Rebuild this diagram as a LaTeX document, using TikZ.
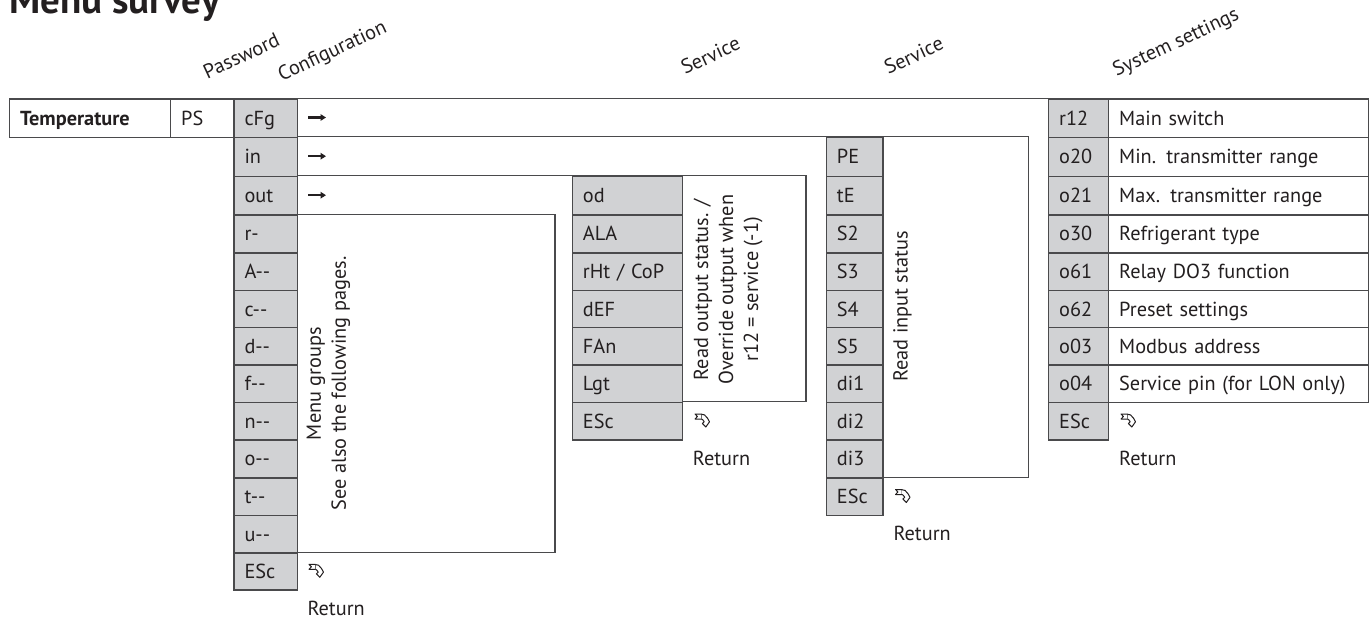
\documentclass[tikz,border=0pt]{standalone}
\usepackage{fontspec}
\setmainfont{PT Sans}
\usetikzlibrary{arrows.meta}
\definecolor{ink}{HTML}{231F20}
\definecolor{rulec}{HTML}{4A4A4C}
\definecolor{cellgray}{HTML}{D1D2D4}
\newcommand\cellnode[7]{%
  \pgfmathsetmacro\cellW{#4-#3}%
  \pgfmathsetmacro\cellT{#4-#3-21}%
  \pgfmathsetmacro\cellH{#6-#5}%
  \node[#2, minimum width=\cellW pt, minimum height=\cellH pt, text width=\cellT pt] (#1) at (#3,#5) {#7};}
\begin{document}
\begin{tikzpicture}[x=1pt,y=-1pt, font=\fontsize{20.3}{25}\selectfont, text=ink,
  cellbase/.style={draw=rulec, line width=1.4pt, inner xsep=10.5pt, inner ysep=0pt, text height=14pt, text depth=0pt, align=left, anchor=north west},
  graycell/.style={cellbase, fill=cellgray},
  whitecell/.style={cellbase, fill=white},
  boxline/.style={draw=rulec, line width=1.4pt},
  hdr/.style={anchor=base west, rotate=25, inner sep=0pt},
  lbl/.style={anchor=west, inner sep=0pt, text height=14pt, text depth=0pt},
  vtext/.style={rotate=90, align=center, inner sep=0pt},
  goarrow/.style={draw=ink, line width=2.3pt, -{Triangle[length=5.5pt,width=6.5pt]}},
  retsym/.pic={
    \draw[ink, line width=1pt, line join=round, fill=white]
      (0,0) -- (6.5,0) -- (6.5,5) -- (0,5) -- (2.4,2.5) -- cycle;
    \draw[ink, line width=1pt, line join=round, fill=white]
      (6.5,0.3) -- (9.5,0.9) -- (12.5,4.2) -- (14.5,7.8) -- (10.8,13) -- (7.4,9.5) -- (9.2,7.8) -- (7.8,5.8) -- (6.5,5);
  }
]
\useasboundingbox (0,0) rectangle (1370,621);

% title and column headers
\node[anchor=base west, inner sep=0pt, font=\bfseries\fontsize{39}{42}\selectfont] (title) at (9,13) {Menu survey};
\node[hdr] (hpw) at (207.3,79.3) {Password};
\node[hdr] (hcfg) at (281.7,81.5) {Configuration};
\node[hdr] (hsrv1) at (685,75) {Service};
\node[hdr] (hsrv2) at (888.3,75) {Service};
\node[hdr] (hsys) at (1116.5,76.7) {System settings};

% open boxes to the right of cFg / in / out and the menu group box
\draw[boxline] (296.7,98.3) -- (1048,98.3);
\draw[boxline] (296.7,136.7) -- (1028.3,136.7) -- (1028.3,477.2) -- (882.3,477.2);
\draw[boxline] (296.7,175.7) -- (806,175.7) -- (806,401.7) -- (681.7,401.7);
\draw[boxline] (296.7,214.2) -- (555,214.2) -- (555,552.3) -- (296.7,552.3);

% first row
\cellnode{temp}{whitecell}{9}{170}{98.3}{136.7}{\textbf{Temperature}}
\cellnode{ps}{whitecell}{170}{233.3}{98.3}{136.7}{PS}

% configuration column
\cellnode{cfg}{graycell}{233.3}{296.7}{98.3}{136.7}{cFg}
\cellnode{cin}{graycell}{233.3}{296.7}{136.7}{175.7}{in}
\cellnode{cout}{graycell}{233.3}{296.7}{175.7}{214.2}{out}
\cellnode{cr}{graycell}{233.3}{296.7}{214.2}{252.2}{r-}
\cellnode{ca}{graycell}{233.3}{296.7}{252.2}{289.8}{A-{}-}
\cellnode{cc}{graycell}{233.3}{296.7}{289.8}{326.9}{c-{}-}
\cellnode{cd}{graycell}{233.3}{296.7}{326.9}{364.2}{d-{}-}
\cellnode{cf}{graycell}{233.3}{296.7}{364.2}{401.7}{f-{}-}
\cellnode{cn}{graycell}{233.3}{296.7}{401.7}{439.3}{n-{}-}
\cellnode{co}{graycell}{233.3}{296.7}{439.3}{477.2}{o-{}-}
\cellnode{ct}{graycell}{233.3}{296.7}{477.2}{514.8}{t-{}-}
\cellnode{cu}{graycell}{233.3}{296.7}{514.8}{552.3}{u-{}-}
\cellnode{cesc}{graycell}{233.3}{296.7}{552.3}{589.4}{ESc}

\coordinate (a1s) at (308.3,117.5); \coordinate (a1e) at (326,117.5);
\coordinate (a2s) at (308.3,156.2); \coordinate (a2e) at (326,156.2);
\coordinate (a3s) at (308.3,195.2); \coordinate (a3e) at (326,195.2);
\draw[goarrow] (a1s) -- (a1e);
\draw[goarrow] (a2s) -- (a2e);
\draw[goarrow] (a3s) -- (a3e);

\node[vtext] (menutxt) at (328.5,383.5) {Menu groups\\See also the following pages.};
\pic at (309,564.3) {retsym};
\node[lbl] (ret1) at (307.3,608.2) {Return};

% output service column
\cellnode{od}{graycell}{571.7}{681.7}{175.7}{214.2}{od}
\cellnode{ala}{graycell}{571.7}{681.7}{214.2}{252.2}{ALA}
\cellnode{rht}{graycell}{571.7}{681.7}{252.2}{289.8}{rHt / CoP}
\cellnode{def}{graycell}{571.7}{681.7}{289.8}{326.9}{dEF}
\cellnode{fan}{graycell}{571.7}{681.7}{326.9}{364.2}{FAn}
\cellnode{lgt}{graycell}{571.7}{681.7}{364.2}{401.7}{Lgt}
\cellnode{oesc}{graycell}{571.7}{681.7}{401.7}{439.3}{ESc}
\node[vtext] (outtxt) at (728,289.5) {Read output status. /\\Override output when\\r12 = service (-1)};
\pic at (695,414) {retsym};
\node[lbl] (ret2) at (692.7,458.3) {Return};

% input service column
\cellnode{pe}{graycell}{825.7}{882.3}{136.7}{175.7}{PE}
\cellnode{te}{graycell}{825.7}{882.3}{175.7}{214.2}{tE}
\cellnode{s2}{graycell}{825.7}{882.3}{214.2}{252.2}{S2}
\cellnode{s3}{graycell}{825.7}{882.3}{252.2}{289.8}{S3}
\cellnode{s4}{graycell}{825.7}{882.3}{289.8}{326.9}{S4}
\cellnode{s5}{graycell}{825.7}{882.3}{326.9}{364.2}{S5}
\cellnode{di1}{graycell}{825.7}{882.3}{364.2}{401.7}{di1}
\cellnode{di2}{graycell}{825.7}{882.3}{401.7}{439.3}{di2}
\cellnode{di3}{graycell}{825.7}{882.3}{439.3}{477.2}{di3}
\cellnode{iesc}{graycell}{825.7}{882.3}{477.2}{514.8}{ESc}
\node[vtext] (intxt) at (902.5,306.5) {Read input status};
\pic at (895.5,489.5) {retsym};
\node[lbl] (ret3) at (893.3,533.5) {Return};

% system settings column
\cellnode{r12}{graycell}{1048}{1108}{98.3}{136.7}{r12}
\cellnode{r12t}{whitecell}{1108}{1368}{98.3}{136.7}{Main switch}
\cellnode{o20}{graycell}{1048}{1108}{136.7}{175.7}{o20}
\cellnode{o20t}{whitecell}{1108}{1368}{136.7}{175.7}{Min. transmitter range}
\cellnode{o21}{graycell}{1048}{1108}{175.7}{214.2}{o21}
\cellnode{o21t}{whitecell}{1108}{1368}{175.7}{214.2}{Max. transmitter range}
\cellnode{o30}{graycell}{1048}{1108}{214.2}{252.2}{o30}
\cellnode{o30t}{whitecell}{1108}{1368}{214.2}{252.2}{Refrigerant type}
\cellnode{o61}{graycell}{1048}{1108}{252.2}{289.8}{o61}
\cellnode{o61t}{whitecell}{1108}{1368}{252.2}{289.8}{Relay DO3 function}
\cellnode{o62}{graycell}{1048}{1108}{289.8}{326.9}{o62}
\cellnode{o62t}{whitecell}{1108}{1368}{289.8}{326.9}{Preset settings}
\cellnode{o03}{graycell}{1048}{1108}{326.9}{364.2}{o03}
\cellnode{o03t}{whitecell}{1108}{1368}{326.9}{364.2}{Modbus address}
\cellnode{o04}{graycell}{1048}{1108}{364.2}{401.7}{o04}
\cellnode{o04t}{whitecell}{1108}{1368}{364.2}{401.7}{Service pin (for LON only)}
\cellnode{sesc}{graycell}{1048}{1108}{401.7}{439.3}{ESc}
\pic at (1121,414) {retsym};
\node[lbl] (ret4) at (1119,458.3) {Return};
\end{tikzpicture}
\end{document}
